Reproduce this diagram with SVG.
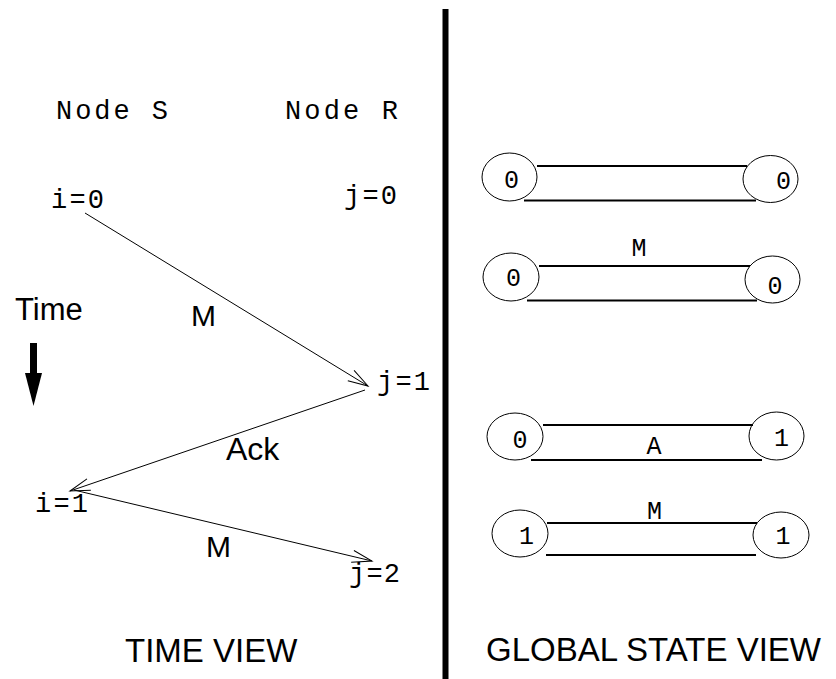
<svg xmlns="http://www.w3.org/2000/svg" width="836" height="679" viewBox="0 0 836 679">
<style>
.mono{font-family:"Liberation Mono","DejaVu Sans Mono",monospace;font-size:27px;fill:#000}
.st{font-family:"Liberation Mono","DejaVu Sans Mono",monospace;font-size:25px;fill:#000}
.sans{font-family:"Liberation Sans","Arial",sans-serif;fill:#000}
.msg{fill:none;stroke:#000;stroke-width:1}
.ell{fill:none;stroke:#000;stroke-width:1}
.chan{stroke:#000;stroke-width:2}
</style>
<defs>
<marker id="open" markerUnits="userSpaceOnUse" markerWidth="24" markerHeight="16" refX="21" refY="7" orient="auto">
<path d="M1,1 L21,7 L1,13" fill="none" stroke="#000" stroke-width="1"/>
</marker>
</defs>
<rect width="836" height="679" fill="#fff"/>
<line x1="445.5" y1="9" x2="445.5" y2="679" stroke="#000" stroke-width="6"/>
<g id="time-view">
<text class="mono" x="56" y="119" textLength="112" lengthAdjust="spacing">Node S</text>
<text class="mono" x="285" y="119" textLength="113" lengthAdjust="spacing">Node R</text>
<text class="mono" x="51" y="208" textLength="53" lengthAdjust="spacing">i=0</text>
<text class="mono" x="344" y="204" textLength="53" lengthAdjust="spacing">j=0</text>
<text class="mono" x="377" y="390" textLength="53" lengthAdjust="spacing">j=1</text>
<text class="mono" x="35" y="512" textLength="53" lengthAdjust="spacing">i=1</text>
<text class="mono" x="349" y="582" textLength="51" lengthAdjust="spacing">j=2</text>
<text class="sans" x="15" y="320" font-size="31">Time</text>
<rect x="30" y="343" width="7" height="32" fill="#000"/>
<polygon points="25,373 42,373 33.5,406" fill="#000"/>
<text class="sans" x="191" y="326" font-size="30">M</text>
<text class="sans" x="226" y="460" font-size="32">Ack</text>
<text class="sans" x="206" y="557" font-size="30">M</text>
<text class="sans" x="125" y="662" font-size="33">TIME VIEW</text>
</g>
<g id="connectors">
<line class="msg" x1="85" y1="213" x2="368" y2="386" marker-end="url(#open)"/>
<line class="msg" x1="365" y1="390" x2="70" y2="491" marker-end="url(#open)"/>
<line class="msg" x1="74" y1="490" x2="372" y2="561" marker-end="url(#open)"/>
</g>
<g id="state-1">
<ellipse class="ell" cx="509.5" cy="177" rx="27.5" ry="24"/>
<ellipse class="ell" cx="770.5" cy="179" rx="27.5" ry="23.5"/>
<line class="chan" x1="537" y1="166" x2="747" y2="166"/>
<line class="chan" x1="524" y1="200.5" x2="756" y2="200.5"/>
<text class="st" x="511.5" y="188" text-anchor="middle">0</text>
<text class="st" x="783.5" y="189" text-anchor="middle">0</text>
</g>
<g id="state-2">
<ellipse class="ell" cx="511" cy="277" rx="28" ry="24"/>
<ellipse class="ell" cx="772.5" cy="279.5" rx="27.5" ry="23.5"/>
<line class="chan" x1="539" y1="266" x2="750" y2="266"/>
<line class="chan" x1="527" y1="300.5" x2="757" y2="300.5"/>
<text class="st" x="513.5" y="286" text-anchor="middle">0</text>
<text class="st" x="775" y="294" text-anchor="middle">0</text>
<text class="st" x="639" y="256" text-anchor="middle">M</text>
</g>
<g id="state-3">
<ellipse class="ell" cx="515" cy="436.5" rx="28" ry="23.5"/>
<ellipse class="ell" cx="776.5" cy="436" rx="27.5" ry="24"/>
<line class="chan" x1="543" y1="425" x2="753" y2="425"/>
<line class="chan" x1="531" y1="460" x2="762" y2="460"/>
<text class="st" x="520" y="448" text-anchor="middle">0</text>
<text class="st" x="781.5" y="446" text-anchor="middle">1</text>
<text class="st" x="654" y="454" text-anchor="middle">A</text>
</g>
<g id="state-4">
<ellipse class="ell" cx="520" cy="533.5" rx="28" ry="23.5"/>
<ellipse class="ell" cx="781" cy="535" rx="28" ry="23"/>
<line class="chan" x1="547" y1="523" x2="757" y2="523"/>
<line class="chan" x1="546" y1="555" x2="756" y2="555"/>
<text class="st" x="526.5" y="544" text-anchor="middle">1</text>
<text class="st" x="783" y="544" text-anchor="middle">1</text>
<text class="st" x="654.5" y="519" text-anchor="middle">M</text>
</g>
<text class="sans" x="486" y="661" font-size="33">GLOBAL STATE VIEW</text>
</svg>
